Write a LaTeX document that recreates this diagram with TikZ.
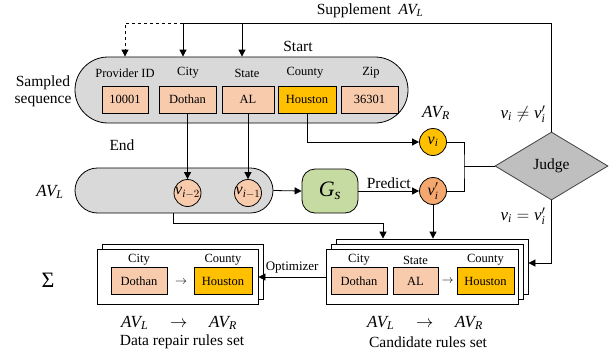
\documentclass[tikz,border=0pt]{standalone}
\usepackage{amsmath}
\usepackage{fontspec}
\setmainfont{Liberation Serif}
\usetikzlibrary{arrows.meta,shapes.geometric}
\newcommand{\mi}[1]{\textit{#1}}
\definecolor{peach}{HTML}{F8CBAD}
\definecolor{gold}{HTML}{FFC000}
\definecolor{orng}{HTML}{F4A76E}
\definecolor{grn}{HTML}{C6DBA2}
\definecolor{lgray}{HTML}{D9D9D9}
\definecolor{jgray}{HTML}{BFBFBF}
\begin{document}
\begin{tikzpicture}[x=1pt,y=-1pt,
  big/.style={font=\fontsize{15.5}{18}\selectfont},
  small/.style={font=\fontsize{12.5}{15}\selectfont},
  mth/.style={font=\fontsize{17}{19}\selectfont},
  valbox/.style={draw, line width=0.8pt, fill=peach, inner sep=0pt, minimum height=27pt, small},
  hotbox/.style={valbox, fill=gold},
  seqshape/.style={draw, line width=0.8pt, fill=lgray, inner sep=0pt},
  vcirc/.style={draw, line width=0.8pt, circle, inner sep=0pt, minimum size=27pt, font=\fontsize{16}{18}\selectfont},
  rulebox/.style={draw, line width=0.8pt, fill=white, inner sep=0pt, minimum height=55pt},
  conn/.style={draw, line width=0.8pt},
  arr/.style={conn, -{Triangle[length=7pt,width=7pt]}}
]
\useasboundingbox (0,0) rectangle (613,356);

% sampled sequence
\node[seqshape, minimum width=333pt, minimum height=66pt, rounded corners=33pt] (seq) at (241.5,90) {};
\node[big, align=center, inner sep=0pt] (seqlbl) at (43,91) {Sampled\\[-1pt]sequence};
\node[big] (start) at (298,46) {Start};
\node[small] (hpid) at (125,73) {Provider ID};
\node[small] (hcity) at (188,73) {City};
\node[small] (hstate) at (247,73) {State};
\node[small] (hcounty) at (305,73) {County};
\node[small] (hzip) at (371,73) {Zip};
\node[valbox, minimum width=46pt] (b1) at (125,99.5) {10001};
\node[valbox, minimum width=57pt] (b2) at (187.5,99.5) {Dothan};
\node[valbox, minimum width=52pt] (b3) at (248,99.5) {AL};
\node[hotbox, minimum width=58pt] (b4) at (307,99.5) {Houston};
\node[valbox, minimum width=57pt] (b5) at (369.5,99.5) {36301};

% AV_L sequence
\node[big] (end) at (122,145) {End};
\node[seqshape, minimum width=198pt, minimum height=45pt, rounded corners=22.5pt] (avl) at (174,190.5) {};
\node[mth] (avllbl) at (50,192) {$\mi{AV}_{\mi{L}}$};
\node[vcirc, fill=peach] (c2) at (187.5,193) {$\mi{v}_{\mi{i}-2}$};
\node[vcirc, fill=peach] (c1) at (248,193) {$\mi{v}_{\mi{i}-1}$};

% G_s
\node[draw, line width=0.8pt, fill=grn, rounded corners=13pt, minimum width=56pt, minimum height=44pt, inner sep=0pt, font=\fontsize{22}{24}\selectfont] (gs) at (330,191) {$\mi{G}_{\mi{s}}$};

% v_i, v_i'
\node[vcirc, fill=gold] (vi) at (433,142) {$\mi{v}_{\mi{i}}$};
\node[vcirc, fill=orng] (vp) at (433,191) {$\mi{v}_{\mi{i}}'$};
\node[mth] (avr) at (436,113) {$\mi{AV}_{\mi{R}}$};

% Judge
\node[draw=black!75, line width=0.8pt, fill=jgray, diamond, aspect=1.66, minimum width=113pt, minimum height=68pt, inner sep=0pt, big] (judge) at (551.5,166) {Judge};
\node[mth] (neq) at (523,114) {$\mi{v}_{\mi{i}}\neq \mi{v}_{\mi{i}}'$};
\node[mth] (eq) at (523,216) {$\mi{v}_{\mi{i}}= \mi{v}_{\mi{i}}'$};
\node[big] (supp) at (370,11) {Supplement \ $\mi{AV}_{\mi{L}}$};

% Data repair rules set
\node[rulebox, minimum width=161pt] (dr2) at (182.5,271.5) {};
\node[rulebox, minimum width=161pt] (dr) at (177.5,276.5) {};
\node[small] (drh1) at (139,260) {City};
\node[small] (drh2) at (223,260) {County};
\node[valbox, minimum width=56pt] (drb1) at (139,281) {Dothan};
\node[hotbox, minimum width=58pt] (drb2) at (223,281) {Houston};
\node[small] (drarr) at (181,282) {$\rightarrow$};
\node[mth] (drf) at (179,323) {$\mi{AV}_{\mi{L}}\quad\rightarrow\quad \mi{AV}_{\mi{R}}$};
\node[big] (drt) at (182,342) {Data repair rules set};
\node[font=\fontsize{22}{24}\selectfont] (sigma) at (48,280) {Σ};

% Candidate rules set
\node[rulebox, minimum width=192pt] (cr3) at (432,266.5) {};
\node[rulebox, minimum width=192pt] (cr2) at (427,271.5) {};
\node[rulebox, minimum width=192pt] (cr) at (422,276.5) {};
\node[small] (crh1) at (359,260) {City};
\node[small] (crh2) at (415.5,260) {State};
\node[small] (crh3) at (485.5,260) {County};
\node[valbox, minimum width=56pt] (crb1) at (359,281) {Dothan};
\node[valbox, minimum width=45pt] (crb2) at (415.5,281) {AL};
\node[hotbox, minimum width=57pt] (crb3) at (485.5,281) {Houston};
\node[small] (crarr) at (447.5,281) {$\rightarrow$};
\node[mth] (crf) at (425,323) {$\mi{AV}_{\mi{L}}\quad\rightarrow\quad \mi{AV}_{\mi{R}}$};
\node[big] (crt) at (428,342) {Candidate rules set};

% coordinates
\coordinate (tr) at (551.5,23);
\coordinate (tcity) at (183,23);
\coordinate (tstate) at (242,23);
\coordinate (tpid) at (125,23);
\coordinate (jn) at (464,166);
\coordinate (br) at (551.5,263);
\coordinate (avlb) at (173,213);
\coordinate (avlm) at (173,223);
\coordinate (cm) at (383,223);
\coordinate (optr) at (326,277);

% top feedback
\draw[conn] (judge.north) -- (tr) -- (tcity);
\draw[arr] (tcity) -- (tcity |- seq.north);
\draw[arr] (tstate) -- (tstate |- seq.north);
\draw[conn, dashed, -{Triangle[length=7pt,width=7pt]}] (tcity) -- (tpid) -- (tpid |- seq.north);

% down to AV_L
\draw[arr] (b2.south) -- (c2.north);
\draw[arr] (b3.south) -- (c1.north);
\draw[arr] (b4.south) |- (vi.west);
\draw[arr] (avl.east) -- (gs.west);
\draw[arr] (gs.east) -- node[above, big, yshift=-1pt] {Predict} (vp.west);
\draw[conn] (vi.east) -| (jn) |- (vp.east);
\draw[conn] (jn) -- (judge.west);

% down to candidate
\draw[arr] (avlb) -- (avlm) -- (cm) -- (cm |- cr3.north);
\draw[arr] (vp.south) -- (vp.south |- cr3.north);
\draw[arr] (judge.south) |- (br) -- (br -| cr3.east);
\draw[arr] (optr) -- node[above, font=\fontsize{13}{15}\selectfont] {Optimizer} (optr -| dr.east);
\end{tikzpicture}
\end{document}
